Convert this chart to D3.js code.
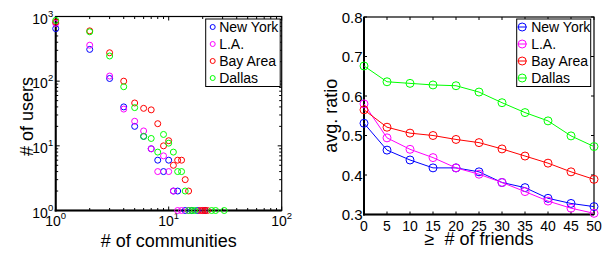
<!DOCTYPE html>
<html>
<head>
<meta charset="utf-8">
<script src="https://d3js.org/d3.v7.min.js"></script>
<style>
  body { margin: 0; background: #fff; }
  text { font-family: "Liberation Sans", Arial, sans-serif; fill: #000; }
</style>
</head>
<body>
<script>
// ---- data ----
var cities = ["New York", "L.A.", "Bay Area", "Dallas"];
var colors = ["#0000ff", "#ff00ff", "#ff0000", "#00ff00"];

// left: number of communities (x) vs number of users (y)
var nyComm = [1, 2, 3, 4, 5, 6, 7, 8, 9, 10, 11, 12, 14, 16, 18, 21];
var nyUsers = [650, 310, 110, 40, 20, 14, 9, 6, 4, 6, 2, 2, 1, 1, 1, 1];
var laComm = [1, 2, 3, 4, 5, 6, 7, 8, 9, 10, 11, 12, 13, 15, 20];
var laUsers = [780, 360, 120, 37, 24, 17, 9, 4, 7, 4, 2, 1, 1, 1, 1];
var bayComm = [1, 2, 3, 4, 5, 6, 7, 8, 9, 10, 11, 12, 13, 14, 15, 19, 20, 21, 22];
var bayUsers = [820, 600, 275, 100, 46, 38, 36, 22, 10, 12, 5, 6, 6, 3, 2, 1, 1, 1, 1];
var dalComm = [1, 2, 3, 4, 5, 6, 7, 8, 9, 10, 11, 12, 13, 14, 15, 16, 17, 24, 26, 31];
var dalUsers = [870, 580, 245, 82, 39, 14, 13, 8, 15, 11, 8, 4, 4, 2, 1, 1, 1, 1, 1, 1];

// right: >= # of friends vs avg. ratio
var friends = [0, 5, 10, 15, 20, 25, 30, 35, 40, 45, 50];
var nyRatio = [0.531, 0.463, 0.438, 0.418, 0.418, 0.408, 0.381, 0.368, 0.341, 0.328, 0.320];
var laRatio = [0.580, 0.494, 0.465, 0.444, 0.418, 0.402, 0.381, 0.358, 0.334, 0.316, 0.303];
var bayRatio = [0.565, 0.521, 0.506, 0.500, 0.490, 0.482, 0.466, 0.448, 0.430, 0.408, 0.389];
var dalRatio = [0.676, 0.636, 0.632, 0.628, 0.626, 0.610, 0.583, 0.558, 0.537, 0.499, 0.472];

var ratioTicks = [0.3, 0.4, 0.5, 0.6, 0.7, 0.8];
var logYTicks = [1, 10, 100, 1000];
var logXTicks = [1, 10, 100];

var scatter = [
  d3.zip(nyComm, nyUsers), d3.zip(laComm, laUsers),
  d3.zip(bayComm, bayUsers), d3.zip(dalComm, dalUsers)
];
var lines = [nyRatio, laRatio, bayRatio, dalRatio];

var svg = d3.select("body").append("svg")
  .attr("width", 611).attr("height", 253);

// ---------- left panel ----------
var L = {x0: 55.7, x1: 281.7, y0: 16.5, y1: 210.5};
var xL = d3.scaleLog().domain([1, 100]).range([L.x0, L.x1]);
var yL = d3.scaleLog().domain([1, 1000]).range([L.y1, L.y0]);

var left = svg.append("g");
var minorX = xL.ticks(), minorY = yL.ticks();

// inward ticks on all four sides
function isMajor(v) { return Math.abs(Math.log10(v) - Math.round(Math.log10(v))) < 1e-9; }
minorX.forEach(function (v) {
  var len = isMajor(v) ? 4 : 2.5;
  left.append("line").attr("x1", xL(v)).attr("x2", xL(v)).attr("y1", L.y1).attr("y2", L.y1 - len).attr("stroke", "#000");
  left.append("line").attr("x1", xL(v)).attr("x2", xL(v)).attr("y1", L.y0).attr("y2", L.y0 + len).attr("stroke", "#000");
});
minorY.forEach(function (v) {
  var len = isMajor(v) ? 4 : 2.5;
  left.append("line").attr("y1", yL(v)).attr("y2", yL(v)).attr("x1", L.x0).attr("x2", L.x0 + len).attr("stroke", "#000");
  left.append("line").attr("y1", yL(v)).attr("y2", yL(v)).attr("x1", L.x1).attr("x2", L.x1 - len).attr("stroke", "#000");
});

left.append("rect").attr("x", L.x0).attr("y", L.y0)
  .attr("width", L.x1 - L.x0).attr("height", L.y1 - L.y0)
  .attr("fill", "none").attr("stroke", "#000").attr("stroke-width", 1.2);
left.append("line").attr("x1", L.x0).attr("x2", L.x0).attr("y1", L.y0).attr("y2", L.y1 + 1).attr("stroke", "#000").attr("stroke-width", 2);
left.append("line").attr("x1", L.x0 - 1).attr("x2", L.x1).attr("y1", L.y1).attr("y2", L.y1).attr("stroke", "#000").attr("stroke-width", 2);

// log tick labels with superscripts
logXTicks.forEach(function (v) {
  var t = left.append("text").attr("x", xL(v)).attr("y", 225.5)
    .attr("text-anchor", "middle").style("font-size", "14px");
  t.append("tspan").text("10");
  t.append("tspan").attr("dy", -7).style("font-size", "9.5px").text(Math.round(Math.log10(v)));
});
logYTicks.forEach(function (v) {
  var t = left.append("text").attr("x", L.x0 - 2.5).attr("y", yL(v) + 7)
    .attr("text-anchor", "end").style("font-size", "14px");
  t.append("tspan").text("10");
  t.append("tspan").attr("dy", -7).style("font-size", "9.5px").text(Math.round(Math.log10(v)));
});

left.append("text").attr("x", (L.x0 + L.x1) / 2).attr("y", 246.5)
  .attr("text-anchor", "middle").style("font-size", "18px").text("# of communities");
left.append("text").attr("transform", "translate(32.5," + ((L.y0 + L.y1) / 2 + 3) + ") rotate(-90)")
  .attr("text-anchor", "middle").style("font-size", "18px").text("# of users");

scatter.forEach(function (pts, i) {
  left.append("g").selectAll("circle").data(pts).enter().append("circle")
    .attr("cx", function (d) { return xL(d[0]); })
    .attr("cy", function (d) { return yL(d[1]); })
    .attr("r", 3).attr("fill", "none")
    .attr("stroke", colors[i]).attr("stroke-width", 1);
});

// legend box, clipped like the original
function legend(g, x, y, w, h, withLine) {
  var id = "clip" + Math.round(x);
  g.append("clipPath").attr("id", id).append("rect")
    .attr("x", x).attr("y", y).attr("width", w).attr("height", h);
  g.append("rect").attr("x", x).attr("y", y).attr("width", w).attr("height", h)
    .attr("fill", "#fff").attr("stroke", "#000").attr("stroke-width", 1);
  var lg = g.append("g").attr("clip-path", "url(#" + id + ")");
  cities.forEach(function (c, i) {
    var cy = y + 8 + i * 17;
    if (withLine) {
      lg.append("line").attr("x1", x + 1).attr("x2", x + 10).attr("y1", cy).attr("y2", cy)
        .attr("stroke", colors[i]).attr("stroke-width", 1);
      lg.append("circle").attr("cx", x + 5.5).attr("cy", cy).attr("r", 4)
        .attr("fill", "none").attr("stroke", colors[i]).attr("stroke-width", 1);
      lg.append("text").attr("x", x + 14.5).attr("y", cy + 5).style("font-size", "14px").text(c);
    } else {
      lg.append("circle").attr("cx", x + 7).attr("cy", cy).attr("r", 2.5)
        .attr("fill", "none").attr("stroke", colors[i]).attr("stroke-width", 1);
      lg.append("text").attr("x", x + 13.5).attr("y", cy + 5).style("font-size", "14px").text(c);
    }
  });
}
legend(left, 205.7, 19, 74.5, 67.5, false);

// ---------- right panel ----------
var R = {x0: 364, x1: 594, y0: 17, y1: 214.5};
var xR = d3.scaleLinear().domain([0, 50]).range([R.x0, R.x1]);
var yR = d3.scaleLinear().domain([0.3, 0.8]).range([R.y1, R.y0]);
var right = svg.append("g");

friends.forEach(function (v) {
  right.append("line").attr("x1", xR(v)).attr("x2", xR(v)).attr("y1", R.y1).attr("y2", R.y1 - 3).attr("stroke", "#000");
  right.append("line").attr("x1", xR(v)).attr("x2", xR(v)).attr("y1", R.y0).attr("y2", R.y0 + 3).attr("stroke", "#000");
  right.append("text").attr("x", xR(v)).attr("y", 230.5).attr("text-anchor", "middle")
    .style("font-size", "14px").text(v);
});
ratioTicks.forEach(function (v) {
  right.append("line").attr("y1", yR(v)).attr("y2", yR(v)).attr("x1", R.x0).attr("x2", R.x0 + 3).attr("stroke", "#000");
  right.append("line").attr("y1", yR(v)).attr("y2", yR(v)).attr("x1", R.x1).attr("x2", R.x1 - 3).attr("stroke", "#000");
  right.append("text").attr("x", R.x0 - 1.5).attr("y", yR(v) + 5.5).attr("text-anchor", "end")
    .style("font-size", "15px").text(d3.format(".1f")(v));
});

right.append("rect").attr("x", R.x0).attr("y", R.y0)
  .attr("width", R.x1 - R.x0).attr("height", R.y1 - R.y0)
  .attr("fill", "none").attr("stroke", "#000").attr("stroke-width", 1.2);
right.append("line").attr("x1", R.x0).attr("x2", R.x0).attr("y1", R.y0).attr("y2", R.y1 + 1).attr("stroke", "#000").attr("stroke-width", 2);
right.append("line").attr("x1", R.x0 - 1).attr("x2", R.x1).attr("y1", R.y1).attr("y2", R.y1).attr("stroke", "#000").attr("stroke-width", 2);

right.append("text").attr("x", (R.x0 + R.x1) / 2).attr("y", 245)
  .attr("text-anchor", "middle").style("font-size", "18px")
  .text("\u2265\u00a0\u00a0# of friends");
right.append("text").attr("transform", "translate(337," + ((R.y0 + R.y1) / 2) + ") rotate(-90)")
  .attr("text-anchor", "middle").style("font-size", "18px").text("avg. ratio");

var line = d3.line()
  .x(function (d, i) { return xR(friends[i]); })
  .y(function (d) { return yR(d); });

lines.forEach(function (vals, i) {
  right.append("path").datum(vals).attr("d", line)
    .attr("fill", "none").attr("stroke", colors[i]).attr("stroke-width", 1);
  right.append("g").selectAll("circle").data(vals).enter().append("circle")
    .attr("cx", function (d, j) { return xR(friends[j]); })
    .attr("cy", function (d) { return yR(d); })
    .attr("r", 4).attr("fill", "none")
    .attr("stroke", colors[i]).attr("stroke-width", 1);
});

legend(right, 516.7, 19, 74, 67.5, true);
</script>
</body>
</html>
